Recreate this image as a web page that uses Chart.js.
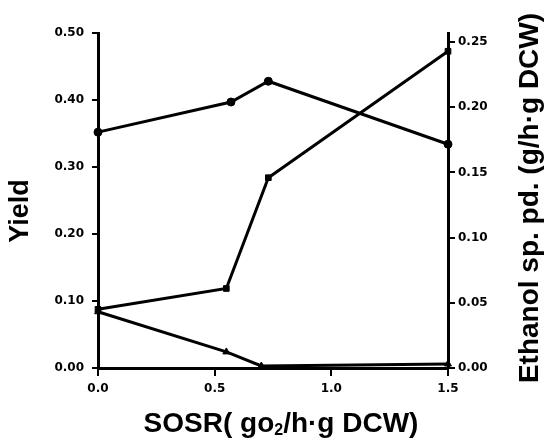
<!DOCTYPE html>
<html>
<head>
<meta charset="utf-8">
<script src="https://cdn.jsdelivr.net/npm/chart.js@4/dist/chart.umd.min.js"></script>
<style>
  body { margin: 0; background: #fff; }
  #wrap { width: 546px; height: 442px; }
</style>
</head>
<body>
<div id="wrap"><canvas id="chart" width="546" height="442"></canvas></div>
<script>
// values
const sosrCircles = [0, 0.57, 0.73, 1.5];
const yieldCircles = [0.352, 0.397, 0.428, 0.334];

const sosrSquares = [0, 0.55, 0.73, 1.5];
const ethanolSquares = [0.045, 0.061, 0.146, 0.243];

const sosrTriangles = [0, 0.55, 0.70, 1.5];
const yieldTriangles = [0.084, 0.024, 0.003, 0.006];

const yieldTicks = [0, 0.1, 0.2, 0.3, 0.4, 0.5];
const ethanolTicks = [0, 0.05, 0.10, 0.15, 0.20, 0.25];
const sosrTicks = [0, 0.5, 1.0, 1.5];

const xTitle = ['SOSR( go', '2', '/h·g DCW)'];
const yTitle = 'Yield';
const y2Title = 'Ethanol sp. pd. (g/h·g DCW)';

const toPoints = (xs, ys) => xs.map((x, i) => ({ x: x, y: ys[i] }));

const tickFont = { family: '"DejaVu Sans", sans-serif', size: 12, weight: 'bold' };

function lineSet(data, style, axis) {
    return {
        data: data,
        yAxisID: axis,
        borderColor: '#000',
        backgroundColor: '#000',
        borderWidth: 3,
        pointStyle: style,
        pointRadius: 4,
        pointBorderWidth: 1,
        tension: 0,
        clip: false
    };
}

// axis titles drawn by hand so the right one reads bottom-to-top
const axisTitles = {
    id: 'axisTitles',
    afterDraw(chart) {
        const ctx = chart.ctx;
        ctx.save();
        ctx.fillStyle = '#000';
        ctx.textBaseline = 'middle';

        // x title with subscript
        const big = 'bold 28px "Liberation Sans", Arial, sans-serif';
        const small = 'bold 16px "Liberation Sans", Arial, sans-serif';
        ctx.font = big;
        const w0 = ctx.measureText(xTitle[0]).width;
        const w2 = ctx.measureText(xTitle[2]).width;
        ctx.font = small;
        const w1 = ctx.measureText(xTitle[1]).width;
        let x = 281 - (w0 + w1 + w2) / 2;
        const y = 424;
        ctx.textAlign = 'left';
        ctx.font = big;
        ctx.fillText(xTitle[0], x, y);
        x += w0;
        ctx.font = small;
        ctx.fillText(xTitle[1], x, y + 7);
        x += w1;
        ctx.font = big;
        ctx.fillText(xTitle[2], x, y);

        ctx.textAlign = 'center';
        ctx.save();
        ctx.translate(21, 211);
        ctx.rotate(-Math.PI / 2);
        ctx.font = 'bold 27px "Liberation Sans", Arial, sans-serif';
        ctx.fillText(yTitle, 0, 0);
        ctx.restore();

        ctx.save();
        ctx.translate(530, 198);
        ctx.rotate(-Math.PI / 2);
        ctx.font = 'bold 28px "Liberation Sans", Arial, sans-serif';
        ctx.fillText(y2Title, 0, 0);
        ctx.restore();

        ctx.restore();
    }
};

new Chart(document.getElementById('chart'), {
    type: 'line',
    data: {
        datasets: [
            lineSet(toPoints(sosrCircles, yieldCircles), 'circle', 'y'),
            lineSet(toPoints(sosrSquares, ethanolSquares), 'rect', 'y2'),
            lineSet(toPoints(sosrTriangles, yieldTriangles), 'triangle', 'y')
        ]
    },
    options: {
        responsive: false,
        animation: false,
        layout: { padding: { top: 33, left: 0, right: 0, bottom: 0 } },
        plugins: {
            legend: { display: false },
            tooltip: { enabled: false }
        },
        scales: {
            x: {
                type: 'linear',
                min: 0,
                max: 1.5,
                afterFit: s => { s.height = 74; },
                afterBuildTicks: s => { s.ticks = sosrTicks.map(v => ({ value: v })); },
                grid: { drawOnChartArea: false, color: '#000', lineWidth: 2, tickLength: 8 },
                border: { color: '#000', width: 3 },
                ticks: {
                    color: '#000',
                    font: tickFont,
                    padding: 6,
                    maxRotation: 0,
                    callback: v => v.toFixed(1)
                }
            },
            y: {
                position: 'left',
                min: 0,
                max: 0.5,
                afterFit: s => { s.width = 98; },
                afterBuildTicks: s => { s.ticks = yieldTicks.map(v => ({ value: v })); },
                grid: { drawOnChartArea: false, color: '#000', lineWidth: 2, tickLength: 6 },
                border: { color: '#000', width: 3 },
                ticks: {
                    color: '#000',
                    font: tickFont,
                    padding: 8,
                    callback: v => v.toFixed(2)
                }
            },
            y2: {
                position: 'right',
                min: 0,
                max: 0.257,
                afterFit: s => { s.width = 98; },
                afterBuildTicks: s => { s.ticks = ethanolTicks.map(v => ({ value: v })); },
                grid: { drawOnChartArea: false, color: '#000', lineWidth: 2, tickLength: 7 },
                border: { color: '#000', width: 3 },
                ticks: {
                    color: '#000',
                    font: tickFont,
                    padding: 3,
                    callback: v => v.toFixed(2)
                }
            }
        }
    },
    plugins: [axisTitles]
});
</script>
</body>
</html>
